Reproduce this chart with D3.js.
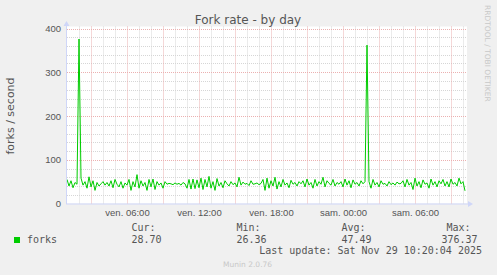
<!DOCTYPE html>
<html>
<head>
<meta charset="utf-8">
<script src="https://d3js.org/d3.v7.min.js"></script>
<style>
  html, body {margin: 0; padding: 0; background: #F0F0F0;}
  svg {display: block; font-family: "DejaVu Sans", sans-serif;}
  .tick text {fill: #555; font-size: 9.5px;}
  .mono {font-family: "DejaVu Sans Mono", monospace; font-size: 10px; fill: #555;}
</style>
</head>
<body>
<svg id="chart" width="497" height="275"></svg>

<script>
// chart values (5 min samples shown every 10 min, starting ven. 01:00)
var startTime = Date.UTC(2025, 10, 28, 1, 0);
var endTime = Date.UTC(2025, 10, 29, 10, 20);
var stepMinutes = 10;

var forks = [
  55, 40, 52, 36, 48, 44, 376,
  58, 42, 50, 35, 61, 38, 52, 30, 48, 40,
  45, 50, 42, 48, 40, 52, 36, 55, 44, 38, 50, 35, 47,
  42, 55, 30, 50, 38, 66, 35, 52, 40, 48, 30, 55,
  38, 56, 32, 50, 42, 47, 35, 50, 44, 46, 45, 43, 47, 44, 46, 42, 48, 45,
  35, 55, 33, 56, 34, 54, 36, 58, 32, 55,
  38, 62, 35, 50, 30, 57, 40, 48, 36, 52,
  45, 40, 50, 43, 47, 38, 60, 42, 49, 44, 46, 41, 52, 44, 45, 47, 43,
  46, 55, 30, 58, 35, 52, 40, 60, 33, 50, 38, 55, 42, 47, 36, 53, 44, 48, 40, 50,
  45, 52, 38, 56, 42, 48, 35, 55, 40, 50, 44, 60, 38, 52, 46, 42, 55, 40, 48, 44,
  50, 38, 56, 42, 52, 36, 54, 44, 48, 40, 52, 45, 50,
  362,
  50, 35, 55, 42, 48, 38, 52, 44, 46, 40, 50, 43, 47, 42, 49, 45,
  46, 52, 38, 55, 42, 48, 32, 58, 40, 50, 36, 54, 44, 47, 35, 56, 42, 50, 38, 52,
  45, 55, 40, 50, 38, 56, 44, 48, 40, 58, 45, 50, 29
];

var yTicks = [0, 100, 200, 300, 400];
var xTickLabels = ["ven. 06:00", "ven. 12:00", "ven. 18:00", "sam. 00:00", "sam. 06:00"];
var legendHeads = ["Cur:", "Min:", "Avg:", "Max:"];
var legendValues = ["28.70", "26.36", "47.49", "376.37"];

var svg = d3.select("#chart");
var plotLeft = 67, plotRight = 467, plotTop = 28.5, plotBottom = 203.5;

var x = d3.scaleUtc()
    .domain([startTime, endTime])
    .range([plotLeft, plotRight]);

var y = d3.scaleLinear()
    .domain([0, 400])
    .range([plotBottom, plotTop]);

// canvas
svg.append("rect")
    .attr("x", plotLeft).attr("y", plotTop - 2)
    .attr("width", plotRight - plotLeft).attr("height", plotBottom - plotTop + 2)
    .attr("fill", "#fff");

// grid
var hours = d3.utcHour.range(new Date(startTime + 1), new Date(endTime));
var grid = svg.append("g").attr("stroke-dasharray", "1,1").attr("stroke-width", 1);
var minorColor = "#d6d6d6", majorColor = "#ebb0b0";

grid.selectAll(".vminor")
    .data(hours.filter(function(d) { return d.getUTCHours() % 3 != 0; }))
    .enter().append("line")
    .attr("x1", function(d) { return Math.round(x(d)) + 0.5; })
    .attr("x2", function(d) { return Math.round(x(d)) + 0.5; })
    .attr("y1", plotTop - 2).attr("y2", plotBottom)
    .attr("stroke", minorColor);

grid.selectAll(".hminor")
    .data(d3.range(20, 400, 20).filter(function(v) { return v % 100 != 0; }))
    .enter().append("line")
    .attr("x1", plotLeft).attr("x2", plotRight)
    .attr("y1", function(d) { return Math.round(y(d)) + 0.5; })
    .attr("y2", function(d) { return Math.round(y(d)) + 0.5; })
    .attr("stroke", minorColor);

grid.selectAll(".vmajor")
    .data(hours.filter(function(d) { return d.getUTCHours() % 3 == 0; }))
    .enter().append("line")
    .attr("x1", function(d) { return Math.round(x(d)) + 0.5; })
    .attr("x2", function(d) { return Math.round(x(d)) + 0.5; })
    .attr("y1", plotTop - 2).attr("y2", plotBottom)
    .attr("stroke", majorColor);

grid.selectAll(".hmajor")
    .data(yTicks.slice(1))
    .enter().append("line")
    .attr("x1", plotLeft).attr("x2", plotRight)
    .attr("y1", function(d) { return Math.round(y(d)) + 0.5; })
    .attr("y2", function(d) { return Math.round(y(d)) + 0.5; })
    .attr("stroke", majorColor);

// data line
var line = d3.line()
    .x(function(d, i) { return x(startTime + i * stepMinutes * 60000); })
    .y(function(d) { return y(d); });

svg.append("path")
    .datum(forks)
    .attr("fill", "none")
    .attr("stroke", "#00CC00")
    .attr("stroke-width", 1)
    .attr("d", line);

// axes
var sixHours = d3.utcHour.every(6).range(new Date(startTime), new Date(endTime));
var xAxis = d3.axisBottom(x)
    .tickValues(sixHours)
    .tickSize(0)
    .tickPadding(6)
    .tickFormat(function(d, i) { return xTickLabels[i]; });

var gx = svg.append("g")
    .attr("transform", "translate(0," + plotBottom + ")")
    .call(xAxis);
gx.select(".domain").remove();

var yAxis = d3.axisLeft(y)
    .tickValues(yTicks)
    .tickSize(0)
    .tickPadding(6);

var gy = svg.append("g")
    .attr("transform", "translate(" + plotLeft + ",0)")
    .call(yAxis);
gy.select(".domain").remove();

svg.append("line")
    .attr("x1", plotLeft - 0.5).attr("x2", plotLeft - 0.5)
    .attr("y1", plotBottom + 0.5).attr("y2", 24)
    .attr("stroke", "#CFD6F8");
svg.append("line")
    .attr("x1", plotLeft - 1).attr("x2", plotRight + 2)
    .attr("y1", plotBottom + 0.5).attr("y2", plotBottom + 0.5)
    .attr("stroke", "#CFD6F8");
svg.append("path")
    .attr("d", "M" + (plotLeft - 3.5) + ",26 L" + (plotLeft - 0.5) + ",21 L" + (plotLeft + 2.5) + ",26 Z")
    .attr("fill", "#CFD6F8");
svg.append("path")
    .attr("d", "M" + (plotRight + 1) + "," + (plotBottom - 2.5) + " L" + (plotRight + 6) + "," + (plotBottom + 0.5) + " L" + (plotRight + 1) + "," + (plotBottom + 3.5) + " Z")
    .attr("fill", "#CFD6F8");

// titles
svg.append("text")
    .attr("x", 248).attr("y", 23.5)
    .attr("text-anchor", "middle")
    .attr("font-size", "12px")
    .attr("fill", "#555")
    .text("Fork rate - by day");

svg.append("text")
    .attr("transform", "translate(14,116) rotate(-90)")
    .attr("text-anchor", "middle")
    .attr("font-size", "11px")
    .attr("fill", "#555")
    .text("forks / second");

svg.append("text")
    .attr("transform", "translate(485,5) rotate(90)")
    .attr("font-size", "7.5px")
    .attr("fill", "#c8c8c8")
    .text("RRDTOOL / TOBI OETIKER");

// legend
svg.append("rect")
    .attr("x", 14).attr("y", 237)
    .attr("width", 6).attr("height", 6)
    .attr("fill", "#00CC00");

svg.append("text").attr("class", "mono")
    .attr("x", 27).attr("y", 242.5)
    .text("forks");

var colX = [131.5, 236.5, 341.5, 441.5];
var headX = [131.5, 236.5, 341.5, 446.5];

svg.selectAll(".lhead")
    .data(legendHeads)
    .enter().append("text").attr("class", "mono")
    .attr("x", function(d, i) { return headX[i]; })
    .attr("y", 230.5)
    .text(function(d) { return d; });

svg.selectAll(".lval")
    .data(legendValues)
    .enter().append("text").attr("class", "mono")
    .attr("x", function(d, i) { return colX[i]; })
    .attr("y", 242.5)
    .text(function(d) { return d; });

svg.append("text").attr("class", "mono")
    .attr("x", 482).attr("y", 254)
    .attr("text-anchor", "end")
    .text("Last update: Sat Nov 29 10:20:04 2025");

svg.append("text")
    .attr("x", 223).attr("y", 267)
    .attr("font-size", "7.5px")
    .attr("fill", "#c8c8c8")
    .text("Munin 2.0.76");
</script>
</body>
</html>
